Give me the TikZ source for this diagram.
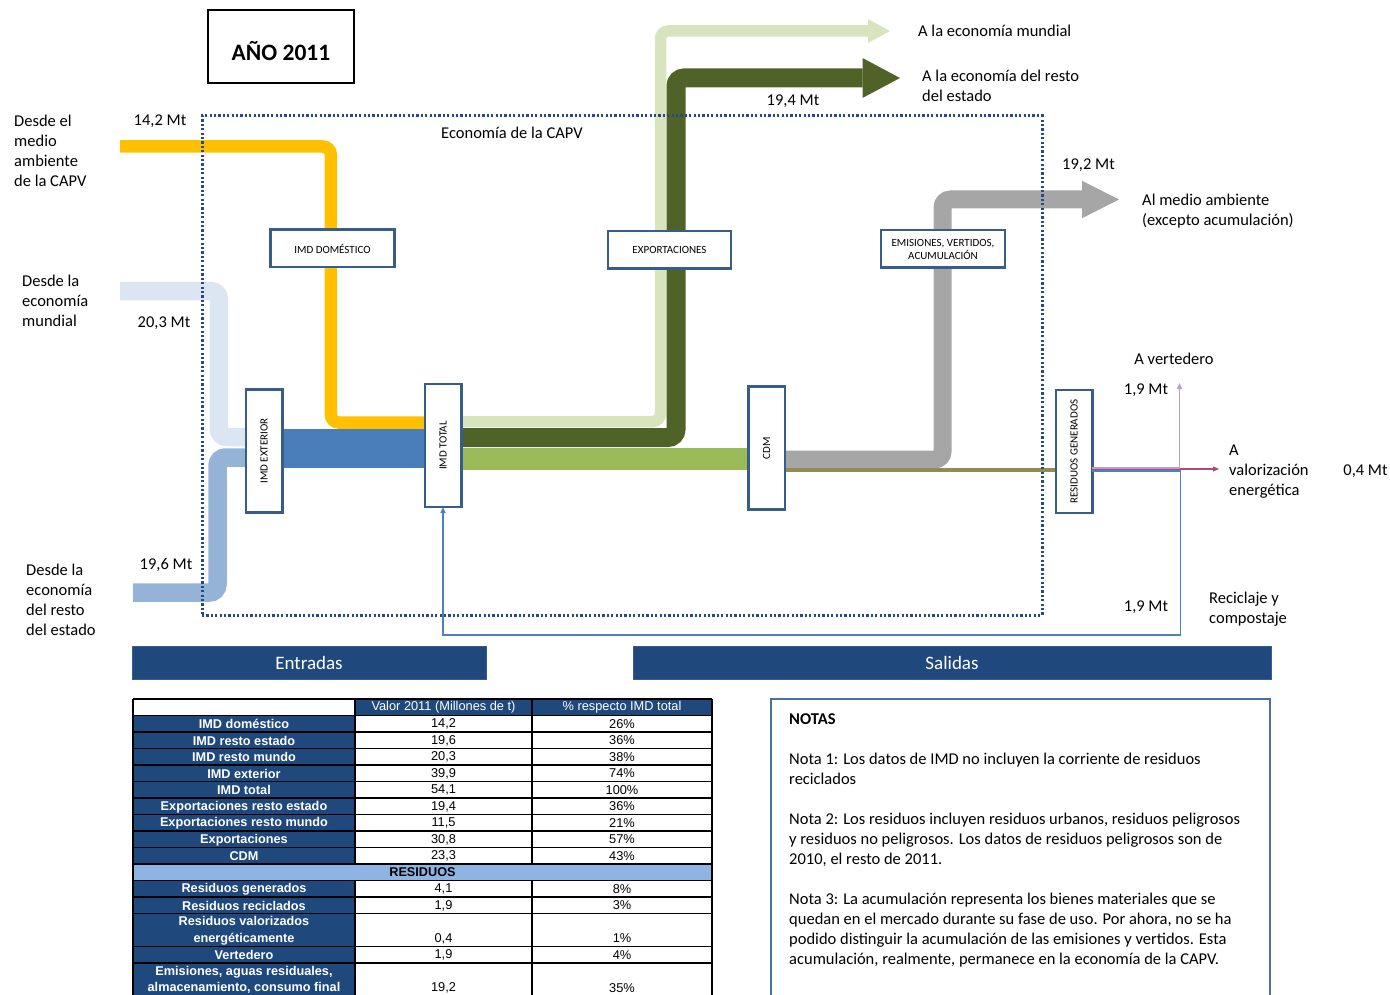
\documentclass[tikz,border=0pt]{standalone}
\usepackage{fontspec}
\setmainfont{Carlito}
\newfontfamily\tabfont{Liberation Sans}
\usepackage{graphicx}
\usepackage{tikz}
\usetikzlibrary{arrows.meta, backgrounds}

\definecolor{amarillo}{HTML}{FFC000}
\definecolor{azulclaro}{HTML}{DCE6F2}
\definecolor{azulmedio}{HTML}{95B3D7}
\definecolor{azulflujo}{HTML}{4A7EBB}
\definecolor{verdeclaro}{HTML}{D7E4BD}
\definecolor{verdeoscuro}{HTML}{4F6228}
\definecolor{verdemedio}{HTML}{9BBB59}
\definecolor{gris}{HTML}{A6A6A6}
\definecolor{oliva}{HTML}{948A54}
\definecolor{lila}{HTML}{B3A2C7}
\definecolor{rosa}{HTML}{B3467E}
\definecolor{azullinea}{HTML}{4F81BD}
\definecolor{azulcaja}{HTML}{385D8A}
\definecolor{azulpunto}{HTML}{254A86}
\definecolor{azultabla}{HTML}{1F497D}
\definecolor{azulres}{HTML}{8DB4E2}
\definecolor{azulnota}{HTML}{4A6FA5}

\tikzset{
	etiq/.style={font=\fontsize{16.5}{20}\selectfont, inner sep=0pt},
	bloque/.style={draw=azulcaja, line width=2.5pt, fill=white, outer sep=0pt, font=\fontsize{11}{13}\selectfont, align=center},
	hbloque/.style={bloque, minimum width=124, minimum height=37.5},
	vbloque/.style={bloque, minimum width=36.5, minimum height=123},
	flujo/.style={line width=#1, rounded corners=8pt},
	barra/.style={fill=azultabla, draw=azulcaja, line width=1pt, minimum height=33, text=white, font=\fontsize{19}{23}\selectfont},
	celda/.style={font=\tabfont\fontsize{12.8}{14}\selectfont, inner sep=0pt},
	celdab/.style={celda, text=white, font=\tabfont\fontsize{12.7}{14}\selectfont\bfseries},
	rejilla/.style={line width=1.5pt, black}
}

\begin{document}
\begin{tikzpicture}[x=1pt, y=-1pt]
	\useasboundingbox (0,0) rectangle (1390,995);

	\node[draw, line width=2pt, minimum width=146, minimum height=73, font=\fontsize{23.5}{28}\selectfont\bfseries] at (281,46.5) (anio) {\raisebox{-4.5pt}[\height][\depth]{AÑO 2011}};

	\node[draw=azulpunto, line width=3pt, dash pattern=on 2.2pt off 2.2pt, minimum width=840, minimum height=499] at (622,365.5) (capv) {};
	\node[etiq] at (512,133) (econ) {Economía de la CAPV};

	\node[hbloque] at (332.5,248.5) (dom) {IMD DOMÉSTICO};
	\node[hbloque, minimum width=123] at (669.5,250) (exp) {EXPORTACIONES};
	\node[hbloque] at (943,249) (emi) {EMISIONES, VERTIDOS,\\ACUMULACIÓN};
	\node[vbloque] at (264,451) (ext) {\rotatebox{90}{IMD EXTERIOR}};
	\node[vbloque] at (443,445.5) (tot) {\rotatebox{90}{IMD TOTAL}};
	\node[vbloque] at (766.5,448) (cdm) {\rotatebox{90}{CDM}};
	\node[vbloque] at (1074,451.5) (res) {\rotatebox{90}{RESIDUOS GENERADOS}};

	\coordinate (inDom) at (120,146.5);
	\coordinate (inMun) at (120,291);
	\coordinate (inEst) at (133,592.5);
	\coordinate (toMun) at (890,31);
	\coordinate (toEst) at (900,78);
	\coordinate (toAmb) at (1119,199.5);
	\coordinate (toVer) at (1179.5,383);
	\coordinate (toVal) at (1219,469);

	\begin{pgfonlayer}{background}
		\draw[flujo=18.5pt, azulclaro] (inMun) -- (218.8,291) -- (218.8,437) -- (ext.west |- 0,437);
		\draw[flujo=18.5pt, azulmedio] (inEst) -- (217.5,592.5) -- (217.5,457.5) -- (ext.west |- 0,457.5);
		\draw[flujo=12.5pt, amarillo] (inDom) -- (330.8,146.5) -- (330.8,422.5) -- (tot.west |- 0,422.5);
		\draw[flujo=39pt, azulflujo] (ext.east |- 0,448) -- (tot.west |- 0,448);
		\draw[flujo=11.5pt, verdeclaro, -{Triangle[length=22pt, width=24pt, line width=0pt]}] (tot.east |- 0,421.5) -- (660.5,421.5) -- (660.5,31) -- (toMun);
		\draw[flujo=19pt, verdeoscuro, -{Triangle[length=37.5pt, width=40pt, line width=0pt]}] (tot.east |- 0,437.5) -- (676,437.5) -- (676,78) -- (toEst);
		\draw[flujo=22.5pt, verdemedio] (tot.east |- 0,459) -- (cdm.west |- 0,459);
		\draw[flujo=18pt, gris, -{Triangle[length=37pt, width=37.5pt, line width=0pt]}] (cdm.east |- 0,459.5) -- (942.5,459.5) -- (942.5,199.5) -- (toAmb);
		\draw[flujo=3.5pt, oliva] (cdm.east |- 0,470) -- (res.west |- 0,470);
	\end{pgfonlayer}

	\draw[line width=1.5pt, azullinea, -{Triangle[length=6pt, width=5pt]}] (res.east |- 0,471) -- (1180.5,471) -- (1180.5,635) -- (443,635) -- (tot.south);
	\draw[line width=1.2pt, rosa, -{Triangle[length=6pt, width=5pt]}] (res.east |- 0,469) -- (toVal);
	\draw[line width=1.5pt, lila, -{Triangle[length=6pt, width=5pt]}] (res.east |- 0,468) -- (1179.5,468) -- (toVer);

	\node[etiq, anchor=north west, align=left] at (14,115) (desAmb) {Desde el\\medio\\ambiente\\de la CAPV};
	\node[etiq] at (160,121.5) (mt142) {14,2 Mt};
	\node[etiq, anchor=north west, align=left] at (22,275) (desMun) {Desde la\\economía\\mundial};
	\node[etiq] at (164,323.5) (mt203) {20,3 Mt};
	\node[etiq, anchor=north west, align=left] at (26,564) (desEst) {Desde la\\economía\\del resto\\del estado};
	\node[etiq] at (166,565) (mt196) {19,6 Mt};
	\node[etiq, anchor=west] at (918,30.5) (aMun) {A la economía mundial};
	\node[etiq, anchor=north west, align=left] at (922,70) (aEst) {A la economía del resto\\del estado};
	\node[etiq] at (793,101.5) (mt194) {19,4 Mt};
	\node[etiq] at (1088.5,165.5) (mt192) {19,2 Mt};
	\node[etiq, anchor=north west, align=left] at (1142,193.5) (aAmb) {Al medio ambiente\\(excepto acumulación)};
	\node[etiq] at (1174,358.5) (aVer) {A vertedero};
	\node[etiq] at (1146,390.5) (mt19a) {1,9 Mt};
	\node[etiq, anchor=north west, align=left] at (1229,444.5) (aVal) {A\\valorización\\energética};
	\node[etiq] at (1365.5,471.5) (mt04) {0,4 Mt};
	\node[etiq] at (1146,607.5) (mt19b) {1,9 Mt};
	\node[etiq, anchor=north west, align=left] at (1209,591.5) (aRec) {Reciclaje y\\compostaje};

	\node[barra, minimum width=354] at (309,663) (entradas) {Entradas};
	\node[barra, minimum width=638] at (952,663) (salidas) {Salidas};

	\fill[azultabla] (355,699) rectangle (712,715.5);
	\fill[azultabla] (133,715.5) rectangle (355,864);
	\fill[azulres] (133,864) rectangle (712,880.5);
	\fill[azultabla] (133,880.5) rectangle (355,996);
	\foreach \k in {0,...,13,15,16,18}
		\draw[rejilla] (133,{699+16.5*\k}) -- (712,{699+16.5*\k});
	\draw[rejilla] (133,699) -- (133,996) (712,699) -- (712,996);
	\draw[rejilla] (355,699) -- (355,864) (532,699) -- (532,864) (355,880.5) -- (355,996) (532,880.5) -- (532,996);

	\node[celda, text=white] at (443.5,707.5) (hValor) {Valor 2011 (Millones de t)};
	\node[celda, text=white] at (622,707.5) (hPct) {\% respecto IMD total};
	\foreach \k/\lab/\val/\pct in {1/{IMD doméstico}/{14,2}/{26\%}, 2/{IMD resto estado}/{19,6}/{36\%}, 3/{IMD resto mundo}/{20,3}/{38\%}, 4/{IMD exterior}/{39,9}/{74\%}, 5/{IMD total}/{54,1}/{100\%}, 6/{Exportaciones resto estado}/{19,4}/{36\%}, 7/{Exportaciones resto mundo}/{11,5}/{21\%}, 8/{Exportaciones}/{30,8}/{57\%}, 9/{CDM}/{23,3}/{43\%}, 11/{Residuos generados}/{4,1}/{8\%}, 12/{Residuos reciclados}/{1,9}/{3\%}, 15/{Vertedero}/{1,9}/{4\%}}
	{
		\node[celdab] at (244,{707.75+16.5*\k}) (lab\k) {\lab};
		\node[celda] at (443.5,{707.5+16.5*\k}) (val\k) {\val};
		\node[celda] at (622,{707.5+16.5*\k}) (pct\k) {\pct};
	}
	\node[celda, font=\tabfont\fontsize{12.7}{14}\selectfont\bfseries] at (422.5,872.5) (residuos) {RESIDUOS};
	\node[celdab, align=center, font=\tabfont\fontsize{12.7}{16.5}\selectfont\bfseries] at (244,930.5) (lab13) {Residuos valorizados\\energéticamente};
	\node[celda] at (443.5,938.5) (val13) {0,4};
	\node[celda] at (622,938.5) (pct13) {1\%};
	\node[celdab, align=center, font=\tabfont\fontsize{12.7}{16.5}\selectfont\bfseries] at (244,980) (lab16) {Emisiones, aguas residuales,\\almacenamiento, consumo final};
	\node[celda] at (443.5,988) (val16) {19,2};
	\node[celda] at (622,988) (pct16) {35\%};

	\draw[azulnota, line width=1.5pt] (771,699) rectangle (1270,1010);
	\node[etiq, anchor=north west, align=left] at (789,713) (notas) {\textbf{NOTAS}\\[20pt]
		Nota 1: Los datos de IMD no incluyen la corriente de residuos\\
		reciclados\\[20pt]
		Nota 2: Los residuos incluyen residuos urbanos, residuos peligrosos\\
		y residuos no peligrosos. Los datos de residuos peligrosos son de\\
		2010, el resto de 2011.\\[20pt]
		Nota 3: La acumulación representa los bienes materiales que se\\
		quedan en el mercado durante su fase de uso. Por ahora, no se ha\\
		podido distinguir la acumulación de las emisiones y vertidos. Esta\\
		acumulación, realmente, permanece en la economía de la CAPV.};
\end{tikzpicture}
\end{document}
